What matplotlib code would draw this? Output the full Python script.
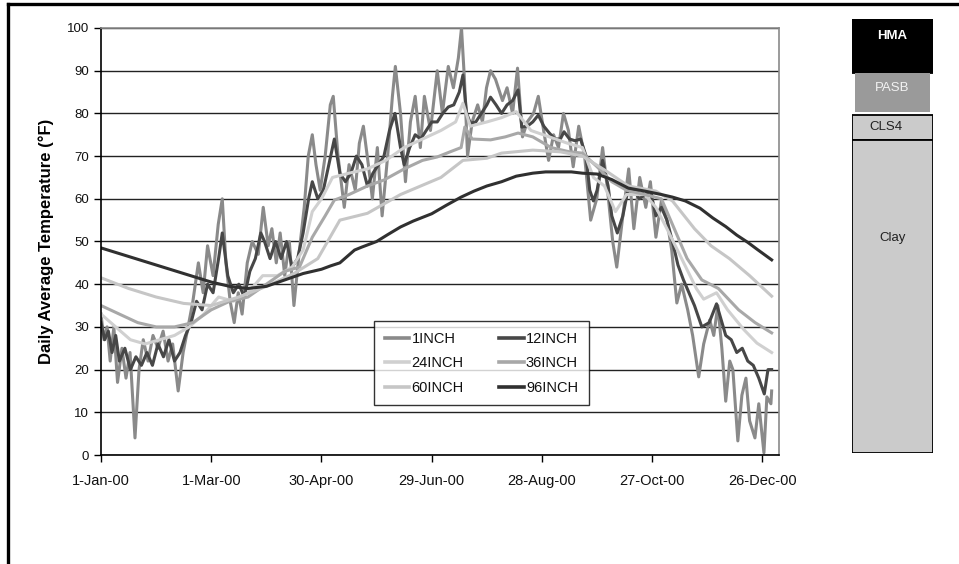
import numpy as np
import matplotlib
matplotlib.use("Agg")
import matplotlib.pyplot as plt
from matplotlib.patches import Rectangle
from matplotlib.lines import Line2D

plt.rcParams['font.family'] = ['Liberation Sans', 'DejaVu Sans']

# day of year (0 = 1-Jan-00) and temperatures
dias_1 = [0, 1.6, 3.3, 5, 7, 9, 11.4, 13.6, 15.8, 18.5, 20.7, 23, 25.6, 28.3, 31, 33.8,
          36.5, 39, 42, 44.7, 47.4, 50, 53, 55.6, 58, 61, 63.8, 66, 68, 70.3, 72.5,
          74.7, 76.8, 79.6, 82.3, 85.6, 88.3, 91, 93, 95.4, 97.5, 100, 102.5, 105, 108,
          110.6, 112.8, 115, 117, 119.3, 122, 124.8, 126.4, 129, 132.4, 135, 138.4,
          140.6, 142.8, 145.5, 147.7, 150.4, 153, 156, 158.6, 160.2, 163, 165.7, 168.4,
          171, 173.8, 176, 179.3, 183, 185.8, 189, 191.8, 194.5, 196.2, 197.8, 199.5,
          202, 205, 207.6, 209.8, 212, 214.7, 218.5, 221, 224, 226.7, 229.4, 232, 235.4,
          238, 240.9, 243.6, 246.3, 249, 251.7, 254.4, 257, 260, 263.2, 266.5, 269.8,
          273, 275.7, 278.5, 280.7, 284, 287.2, 290, 293.2, 296.5, 299, 302, 305, 308,
          310.6, 313.4, 316, 319.3, 322, 325.3, 328, 331.3, 333.5, 335.7, 337.9, 340,
          342.2, 343.9, 345.5, 346.6, 348.8, 351, 353, 355.9, 358, 360.8, 362.4, 364.6, 365]
t_1inch = [33, 27, 30, 22, 30, 17, 25, 18, 24, 4, 20, 27, 22, 28, 25, 29,
           22, 26, 15, 24, 30, 36, 45, 38, 49, 42, 54, 60, 45, 36, 31,
           38, 33, 45, 50, 47, 58, 49, 53, 45, 52, 42, 50, 35, 48,
           58, 70, 75, 68, 62, 70, 82, 84, 70, 58, 68, 62,
           73, 77, 68, 60, 72, 56, 70, 84, 91, 80, 64, 78,
           84, 72, 84, 76, 90, 80, 91, 86, 93, 100, 88, 70,
           78, 82, 78, 86, 90, 88, 83, 86, 80, 90.6, 74.5, 78, 80,
           84, 76, 69, 75, 72, 80, 76, 67.5, 77, 70, 55, 60,
           72, 62, 50, 44, 56, 67, 53, 65, 58, 64, 51, 59.5, 55,
           48, 35.6, 40, 34, 28, 18.3, 26, 31.6, 28, 35, 25, 12.6,
           22, 20, 10, 3.3, 14, 18, 8, 4, 12, 0.5, 13.6, 12, 15]

dias_12 = [0, 2, 4, 6, 8, 10, 13, 16, 19, 22, 25, 28, 31, 34, 37, 40, 43, 46, 49, 52,
           55, 58, 61, 64, 66, 69, 72, 75, 78, 81, 84, 87, 89, 92, 95, 98, 101, 104,
           107, 110, 113, 115, 118, 121, 124, 127, 130, 133, 136, 139, 142, 145, 148,
           151, 154, 157, 160, 163, 165, 168, 171, 174, 177, 180, 183, 186, 189, 192,
           195, 197, 199, 201, 204, 207, 210, 212, 215, 218, 221, 224, 227, 229, 232,
           235, 238, 241, 244, 247, 250, 252, 255, 258, 261, 264, 266, 268, 270, 273,
           276, 278, 281, 284, 287, 290, 293, 296, 299, 302, 305, 308, 311, 314, 317,
           320, 323, 327, 331, 335, 338, 340, 343, 346, 349, 352, 355, 358, 361, 363, 365]
t_12inch = [31, 27, 29, 24, 28, 22, 25, 20, 23, 21, 24, 21, 26, 23, 27, 22, 24, 28, 31, 36,
            34, 40, 38, 46, 52, 42, 38, 40, 37, 43, 46, 52, 50, 46, 50, 46, 50, 44,
            46, 52, 60, 64, 60, 62, 68, 74, 66, 64, 66, 70, 68, 63, 66,
            68, 70, 76, 80, 72, 68, 72, 75, 74, 76, 78, 78, 80, 81.5, 82,
            85, 89, 80, 77.7, 78, 80, 82, 83.8, 82, 80, 82, 83, 85.5, 76.8, 77,
            78, 79.6, 77, 75.4, 74, 74, 75.7, 74, 73.6, 74, 70, 62, 59.5, 62, 69,
            63, 56, 52, 56, 62.5, 62, 60, 61, 62, 56, 58, 55, 50, 44.5, 41,
            38, 35, 30, 31, 35.4, 31, 28, 27, 24, 25, 22, 21, 18, 14.3, 20, 20]

dias_24 = [0, 8, 16, 24, 32, 40, 48, 56, 64, 72, 80, 88, 96, 104, 110, 115, 120, 126,
           135, 145, 155, 165, 175, 185, 193, 197, 201, 210, 218, 226, 234, 244, 254,
           262, 268, 274, 280, 286, 296, 302, 308, 316, 324, 328, 335, 341, 350, 357, 365]
t_24inch = [33, 30, 27, 26, 27, 28, 30, 33, 37, 36, 38, 42, 42, 44, 48, 57, 60, 65,
            66, 67, 69, 72, 74, 76, 78, 82.4, 77, 78, 79, 80.4, 76, 74.5, 73,
            72, 65, 63, 57, 61, 61, 58, 53, 46, 39, 36.5, 38, 34, 29.3, 26.2, 24]

dias_36 = [0, 10, 20, 30, 40, 50, 60, 70, 80, 90, 100, 108, 115, 122, 127, 135, 145,
           154, 165, 175, 183, 190, 196, 198, 202, 212, 220, 227, 235, 245, 255, 262,
           270, 278, 286, 296, 305, 312, 319, 327, 336, 347, 356, 365]
t_36inch = [35, 33, 31, 30, 30, 31, 34, 36, 37, 40, 43, 44, 51, 56, 59.7, 61, 63,
            64.4, 67, 69, 69.8, 71, 72, 76.8, 74, 73.8, 74.5, 75.4, 74.5, 72, 71, 70.7,
            67.5, 64, 62, 61, 60, 53, 46, 41, 39, 34, 31, 28.6]

dias_60 = [0, 15, 30, 45, 60, 75, 90, 105, 118, 130, 145, 163, 185, 197, 210, 218, 235,
           250, 262, 275, 287, 302, 311, 323, 332, 342, 353, 365]
t_60inch = [41.5, 39, 37, 35.5, 35, 37, 39.5, 42.5, 46, 55, 56.6, 61, 65, 69, 69.5, 70.7,
            71.4, 71, 70, 66.5, 63, 61.8, 59.5, 53, 49, 46, 42, 37.2]

dias_96 = [0, 15, 30, 45, 60, 70, 80, 90, 100, 110, 120, 125, 130, 134, 138, 142, 150,
           156, 163, 170, 180, 188, 196, 203, 210, 218, 226, 235, 242, 250, 256, 262,
           270, 278, 287, 296, 305, 311, 318, 326, 333, 340, 346, 352, 357, 365]
t_96inch = [48.5, 46.5, 44.5, 42.5, 40.5, 39.5, 39, 39.5, 41, 42.5, 43.5, 44.3, 45, 46.5,
            48, 48.7, 50, 51.6, 53.4, 54.8, 56.5, 58.5, 60.4, 61.8, 63, 64, 65.3, 66,
            66.3, 66.3, 66.3, 66, 65.8, 64.5, 62.5, 61.8, 61, 60.4, 59.5, 57.8, 55.5,
            53.5, 51.5, 49.8, 48.2, 45.7]

tick_dias = [0, 60, 120, 180, 240, 300, 360]
tick_labels = ['1-Jan-00', '1-Mar-00', '30-Apr-00', '29-Jun-00', '28-Aug-00',
               '27-Oct-00', '26-Dec-00']

# pavement layers shown at the right (relative thickness)
capas = ['HMA', 'PASB', 'CLS4', 'Clay']
espesor = [54, 41, 26, 313]

series = [
    ('1INCH', dias_1, t_1inch, '#8a8a8a'),
    ('12INCH', dias_12, t_12inch, '#474747'),
    ('24INCH', dias_24, t_24inch, '#d0d0d0'),
    ('36INCH', dias_36, t_36inch, '#a8a8a8'),
    ('60INCH', dias_60, t_60inch, '#c6c6c6'),
    ('96INCH', dias_96, t_96inch, '#303030'),
]

fig = plt.figure(figsize=(9.59, 5.64), dpi=100)
ax = fig.add_axes([101/959, 1 - 455/564, 678/959, 427/564])

lineas = []
for nombre, d, t, c in series:
    l, = ax.plot(d, t, color=c, lw=2.2, label=nombre, solid_joinstyle='round')
    lineas.append(l)

ax.set_xlim(0, 369)
ax.set_ylim(0, 100)
ax.set_yticks(range(0, 101, 10))
ax.set_xticks(tick_dias)
ax.set_xticklabels(tick_labels)
ax.yaxis.grid(True, color='#222222', lw=1.0)
ax.set_axisbelow(True)
ax.tick_params(axis='both', direction='out', length=5, width=1, labelsize=9.5,
               color='black', labelcolor='#111111')
ax.tick_params(axis='x', pad=9, labelsize=10.5)
for s in ['left', 'bottom']:
    ax.spines[s].set_color('black')
    ax.spines[s].set_linewidth(1.2)
for s in ['top', 'right']:
    ax.spines[s].set_color('#8a8a8a')
    ax.spines[s].set_linewidth(1.2)
ax.set_ylabel('Daily Average Temperature (°F)', fontsize=12, fontweight='bold',
              labelpad=9)

orden = [lineas[0], lineas[2], lineas[4], lineas[1], lineas[3], lineas[5]]
leg = ax.legend(handles=orden, ncol=2, loc='center', bbox_to_anchor=(0.561, 0.215),
                prop={'size': 10.5}, frameon=True, fancybox=False, edgecolor='black',
                handlelength=1.7, handletextpad=0.15, columnspacing=2.4,
                labelspacing=0.72, borderpad=0.72, borderaxespad=0)
leg.get_frame().set_linewidth(1.0)
for l in leg.get_lines():
    l.set_linewidth(2.6)
for t in leg.get_texts():
    t.set_color('#111111')

# pavement structure column
axp = fig.add_axes([852/959, 1 - 453/564, 81/959, 434/564])
axp.set_xlim(0, 1)
axp.set_ylim(sum(espesor), 0)
axp.axis('off')
colores = ['black', '#9a9a9a', '#cbcbcb', '#cbcbcb']
bordes = ['black', '#9a9a9a', 'black', 'black']
texto_col = ['white', '#f2f2f2', '#222222', '#222222']
texto_y = [17, 15, 13, 98]
tope = 0
for nombre, e, c, b, tc, ty in zip(capas, espesor, colores, bordes, texto_col, texto_y):
    if nombre == 'PASB':
        r = Rectangle((0.035, tope), 0.93, e - 2, facecolor=c, edgecolor=b, lw=0)
    elif nombre == 'CLS4':
        r = Rectangle((0, tope + 1), 1, e - 1, facecolor=c, edgecolor=b, lw=1.3)
    else:
        r = Rectangle((0, tope), 1, e, facecolor=c, edgecolor=b, lw=1.3)
    axp.add_patch(r)
    axp.text(0.5 if nombre != 'CLS4' else 0.42, tope + ty, nombre, color=tc,
             fontsize=9.5, ha='center', va='center',
             fontweight='bold' if nombre == 'HMA' else 'normal')
    tope += e

# outer frame (top and left only)
fig.add_artist(Line2D([8/959, 1], [1 - 3.5/564, 1 - 3.5/564], color='black', lw=2.4))
fig.add_artist(Line2D([8/959, 8/959], [0, 1 - 3.5/564], color='black', lw=2.4))

fig.savefig('out.png', dpi=100)
